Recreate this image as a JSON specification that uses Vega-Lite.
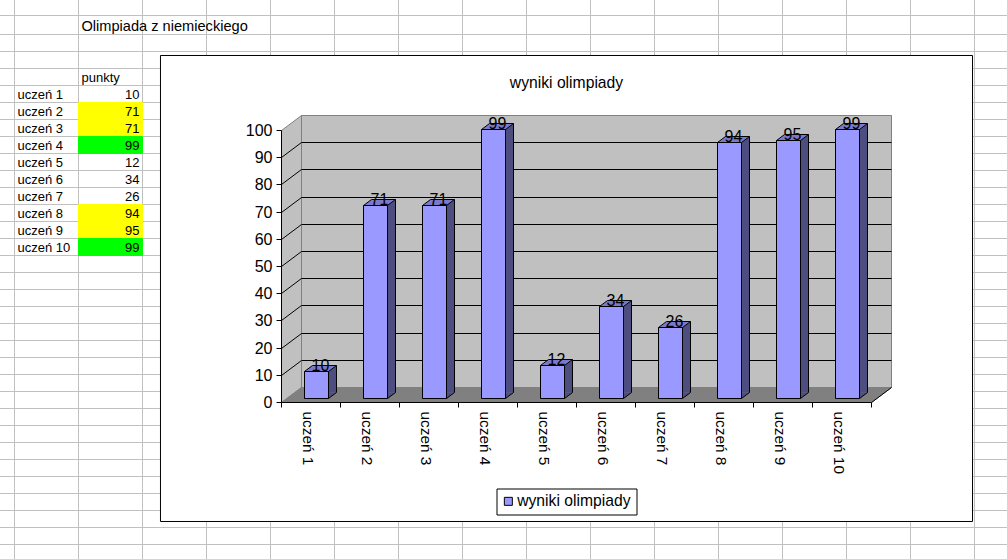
{
"$schema":"https://vega.github.io/schema/vega-lite/v6.json",
"width":1007,"height":559,"padding":0,"autosize":{"type":"none"},
"background":"white","view":{"stroke":null},
"datasets":{
"uczniowie":[
{"uczen":"uczeń 1","punkty":10,"grupa":""},
{"uczen":"uczeń 2","punkty":71,"grupa":"dobry"},
{"uczen":"uczeń 3","punkty":71,"grupa":"dobry"},
{"uczen":"uczeń 4","punkty":99,"grupa":"najlepszy"},
{"uczen":"uczeń 5","punkty":12,"grupa":""},
{"uczen":"uczeń 6","punkty":34,"grupa":""},
{"uczen":"uczeń 7","punkty":26,"grupa":""},
{"uczen":"uczeń 8","punkty":94,"grupa":"dobry"},
{"uczen":"uczeń 9","punkty":95,"grupa":"dobry"},
{"uczen":"uczeń 10","punkty":99,"grupa":"najlepszy"}],
"kolumny":[{"k":0},{"k":1},{"k":2},{"k":3},{"k":4},{"k":5},{"k":6},{"k":7},{"k":8},{"k":9},{"k":10},{"k":11},{"k":12},{"k":13},{"k":14},{"k":15}],
"wiersze":[{"w":0},{"w":1},{"w":2},{"w":3},{"w":4},{"w":5},{"w":6},{"w":7},{"w":8},{"w":9},{"w":10},{"w":11},{"w":12},{"w":13},{"w":14},{"w":15},{"w":16},{"w":17},{"w":18},{"w":19},{"w":20},{"w":21},{"w":22},{"w":23},{"w":24},{"w":25},{"w":26},{"w":27},{"w":28},{"w":29},{"w":30},{"w":31}],
"siatka":[{"v":10},{"v":20},{"v":30},{"v":40},{"v":50},{"v":60},{"v":70},{"v":80},{"v":90}],
"jeden":[{"n":1}]
},
"resolve":{"scale":{"x":"independent","y":"independent","fill":"independent","stroke":"independent"},"axis":{"x":"independent","y":"independent"},"legend":{"fill":"independent"}},
"layer":[
{"layer":[
 {"data":{"name":"kolumny"},"mark":{"type":"rule","color":"#c0c0c0","strokeWidth":1},
  "encoding":{"x":{"field":"k","type":"quantitative","axis":null,"scale":{"domain":[0,15],"range":[14.5,974.5],"nice":false,"zero":false}}}},
 {"data":{"name":"wiersze"},"mark":{"type":"rule","color":"#c0c0c0","strokeWidth":1},
  "encoding":{"y":{"field":"w","type":"quantitative","axis":null,"scale":{"domain":[0,1,2,33],"range":[15.5,34.5,51.5,578.5],"nice":false,"zero":false}}}},
 {"data":{"name":"jeden"},"mark":{"type":"rect","fill":"white","stroke":"black","strokeWidth":1},
  "encoding":{"x":{"datum":2.281,"type":"quantitative"},"x2":{"datum":14.969},"y":{"datum":2.235,"type":"quantitative"},"y2":{"datum":29.647}}},
 {"data":{"values":[{"t":"Olimpiada z niemieckiego"}]},"mark":{"type":"text","align":"left","baseline":"alphabetic","font":"Liberation Sans","fontSize":14.6,"xOffset":3,"color":"black"},
  "encoding":{"text":{"field":"t"},"x":{"datum":1,"type":"quantitative"},"y":{"datum":0.816,"type":"quantitative"}}},
 {"data":{"values":[{"t":"punkty"}]},"mark":{"type":"text","align":"left","baseline":"alphabetic","font":"Liberation Sans","fontSize":13,"xOffset":3,"color":"black"},
  "encoding":{"text":{"field":"t"},"x":{"datum":1,"type":"quantitative"},"y":{"datum":3.776,"type":"quantitative"}}},
 {"data":{"values":[{"t":"wyniki olimpiady"}]},"mark":{"type":"text","align":"center","baseline":"alphabetic","font":"Liberation Sans","fontSize":15.7,"color":"black"},
  "encoding":{"text":{"field":"t"},"x":{"datum":8.625,"type":"quantitative"},"y":{"datum":4.147,"type":"quantitative"}}}
]},
{"data":{"name":"uczniowie"},"layer":[
 {"transform":[{"filter":"datum.grupa != ''"}],
  "mark":{"type":"bar","strokeWidth":1},
  "encoding":{
   "y":{"field":"uczen","type":"nominal","sort":null,"axis":null,"scale":{"type":"band","domain":["uczeń 1","uczeń 2","uczeń 3","uczeń 4","uczeń 5","uczeń 6","uczeń 7","uczeń 8","uczeń 9","uczeń 10"],"range":[85.5,255.5],"paddingInner":0,"paddingOuter":0}},
   "x":{"datum":1,"type":"quantitative","axis":null,"scale":{"domain":[0,15],"range":[14.5,974.5],"nice":false,"zero":false}},
   "x2":{"datum":2},
   "fill":{"field":"grupa","type":"nominal","legend":null,"scale":{"domain":["dobry","najlepszy"],"range":["#ffff00","#00ff00"]}},
   "stroke":{"field":"grupa","type":"nominal","legend":null,"scale":{"domain":["dobry","najlepszy"],"range":["#ffff00","#00ff00"]}}}},
 {"mark":{"type":"text","align":"left","baseline":"alphabetic","font":"Liberation Sans","fontSize":13,"xOffset":3,"yOffset":5,"color":"black"},
  "encoding":{"text":{"field":"uczen"},"y":{"field":"uczen","type":"nominal","sort":null},"x":{"datum":0,"type":"quantitative"}}},
 {"mark":{"type":"text","align":"right","baseline":"alphabetic","font":"Liberation Sans","fontSize":13,"xOffset":-3,"yOffset":5,"color":"black"},
  "encoding":{"text":{"field":"punkty"},"y":{"field":"uczen","type":"nominal","sort":null},"x":{"datum":2,"type":"quantitative"}}}
]},
{"layer":[
 {"data":{"name":"jeden"},"mark":{"type":"rect","fill":"#c0c0c0","stroke":"#808080","strokeWidth":1,"xOffset":20.5,"x2Offset":20.5,"yOffset":-14.5,"y2Offset":-14.5},
  "encoding":{"x":{"datum":0,"type":"quantitative","axis":null,"scale":{"domain":[0,10],"range":[281,871],"nice":false,"zero":false}},"x2":{"datum":10},
   "y":{"datum":0,"type":"quantitative","axis":{"orient":"left","values":[0,10,20,30,40,50,60,70,80,90,100],"title":null,"offset":-281,"zindex":1,"grid":false,"tickSize":5,"tickColor":"black","domainColor":"black","labelColor":"black","labelFont":"Liberation Sans","labelFontSize":16,"labelPadding":4,"labelBound":false,"labelFlush":false,"labelOverlap":false},
    "scale":{"domain":[0,100],"range":[402,130],"nice":false,"zero":false,"round":true}},"y2":{"datum":100}}},
 {"data":{"name":"jeden"},"mark":{"type":"point","filled":true,"size":4,"opacity":1,"fill":"#c0c0c0","stroke":"#808080","strokeWidth":1,"shape":"M0.5 0.5L0.5 -271.5L20.5 -286.5L20.5 -14.5Z"},
  "encoding":{"x":{"datum":0,"type":"quantitative"},"y":{"datum":0,"type":"quantitative"}}},
 {"data":{"name":"jeden"},"mark":{"type":"point","filled":true,"size":4,"opacity":1,"fill":"#808080","stroke":"#808080","strokeWidth":1,"shape":"M0.5 0.5L590.5 0.5L610.5 -14.5L20.5 -14.5Z"},
  "encoding":{"x":{"datum":0,"type":"quantitative"},"y":{"datum":0,"type":"quantitative"}}},
 {"data":{"name":"siatka"},"mark":{"type":"rule","color":"black","strokeWidth":1,"xOffset":20.5,"x2Offset":20.5,"yOffset":-14.5,"y2Offset":-14.5},
  "encoding":{"x":{"datum":0,"type":"quantitative"},"x2":{"datum":10},"y":{"field":"v","type":"quantitative"}}},
 {"data":{"name":"siatka"},"mark":{"type":"point","filled":false,"size":4,"opacity":1,"stroke":"black","strokeWidth":1,"shape":"M0.5 0.5L20.5 -14.5"},
  "encoding":{"x":{"datum":0,"type":"quantitative"},"y":{"field":"v","type":"quantitative"}}},
 {"data":{"name":"jeden"},"mark":{"type":"point","filled":false,"size":4,"opacity":1,"stroke":"black","strokeWidth":1,"shape":"M0.5 0.5L20.5 -14.5"},
  "encoding":{"x":{"datum":10,"type":"quantitative"},"y":{"datum":0,"type":"quantitative"}}}
]},
{"data":{"name":"uczniowie"},"layer":[
 {"mark":{"type":"bar","width":8,"fill":"#4d4d80","xOffset":22,"yOffset":-9.5,"y2Offset":-9.5},
  "encoding":{
   "x":{"field":"uczen","type":"nominal","sort":null,"title":null,"scale":{"type":"band","range":[281,871],"paddingInner":0,"paddingOuter":0},
    "axis":{"orient":"bottom","offset":-157,"zindex":1,"tickBand":"extent","labelAngle":90,"labelAlign":"left","labelBaseline":"middle","labelOffset":-3,"tickSize":5,"tickColor":"black","domainColor":"black","labelColor":"black","labelFont":"Liberation Sans","labelFontSize":15.4,"labelPadding":4,"labelOverlap":false,"labelBound":false,"labelFlush":false,"grid":false}},
   "y":{"field":"punkty","type":"quantitative","axis":null,"scale":{"domain":[0,100],"range":[402,130],"nice":false,"zero":false,"round":true}},
   "y2":{"datum":0}}},
 {"mark":{"type":"point","filled":true,"size":4,"opacity":1,"fill":"#4d4d80","stroke":null,"shape":"M18 -3.5L26 -9.5L18 -9.5Z"},
  "encoding":{"x":{"field":"uczen","type":"nominal","sort":null},"y":{"datum":0,"type":"quantitative"}}},
 {"mark":{"type":"point","filled":false,"size":4,"opacity":1,"stroke":"black","strokeWidth":1,"shape":"M18 -3.5L26 -9.5"},
  "encoding":{"x":{"field":"uczen","type":"nominal","sort":null},"y":{"datum":0,"type":"quantitative"}}},
 {"mark":{"type":"rule","color":"black","strokeWidth":1,"xOffset":26,"yOffset":-9.5,"y2Offset":-9.5},
  "encoding":{"x":{"field":"uczen","type":"nominal","sort":null},"y":{"field":"punkty","type":"quantitative"},"y2":{"datum":0}}},
 {"mark":{"type":"point","filled":true,"size":4,"opacity":1,"fill":"#7a7acc","stroke":"black","strokeWidth":1,"shape":"M-6 -3.5L18 -3.5L26 -9.5L2 -9.5Z"},
  "encoding":{"x":{"field":"uczen","type":"nominal","sort":null},"y":{"field":"punkty","type":"quantitative"}}},
 {"mark":{"type":"bar","width":24,"stroke":"black","strokeWidth":1,"xOffset":6,"yOffset":-3.5,"y2Offset":-3.5},
  "encoding":{"x":{"field":"uczen","type":"nominal","sort":null},"y":{"field":"punkty","type":"quantitative"},"y2":{"datum":0},
   "fill":{"datum":"wyniki olimpiady","type":"nominal","scale":{"domain":["wyniki olimpiady"],"range":["#9999ff"]},
    "legend":{"orient":"none","legendX":496.5,"legendY":488.5,"title":null,"strokeColor":"black","fillColor":"white","padding":5,"symbolType":"square","symbolSize":64,"symbolStrokeColor":"black","symbolStrokeWidth":1,"symbolOffset":-1,"labelFont":"Liberation Sans","labelFontSize":15.7,"labelColor":"black","labelOffset":1,"cornerRadius":0}}}},
 {"mark":{"type":"text","align":"center","baseline":"alphabetic","font":"Liberation Sans","fontSize":16,"color":"black","xOffset":10,"yOffset":-4},
  "encoding":{"text":{"field":"punkty"},"x":{"field":"uczen","type":"nominal","sort":null},"y":{"field":"punkty","type":"quantitative"}}}
]}
]
}
